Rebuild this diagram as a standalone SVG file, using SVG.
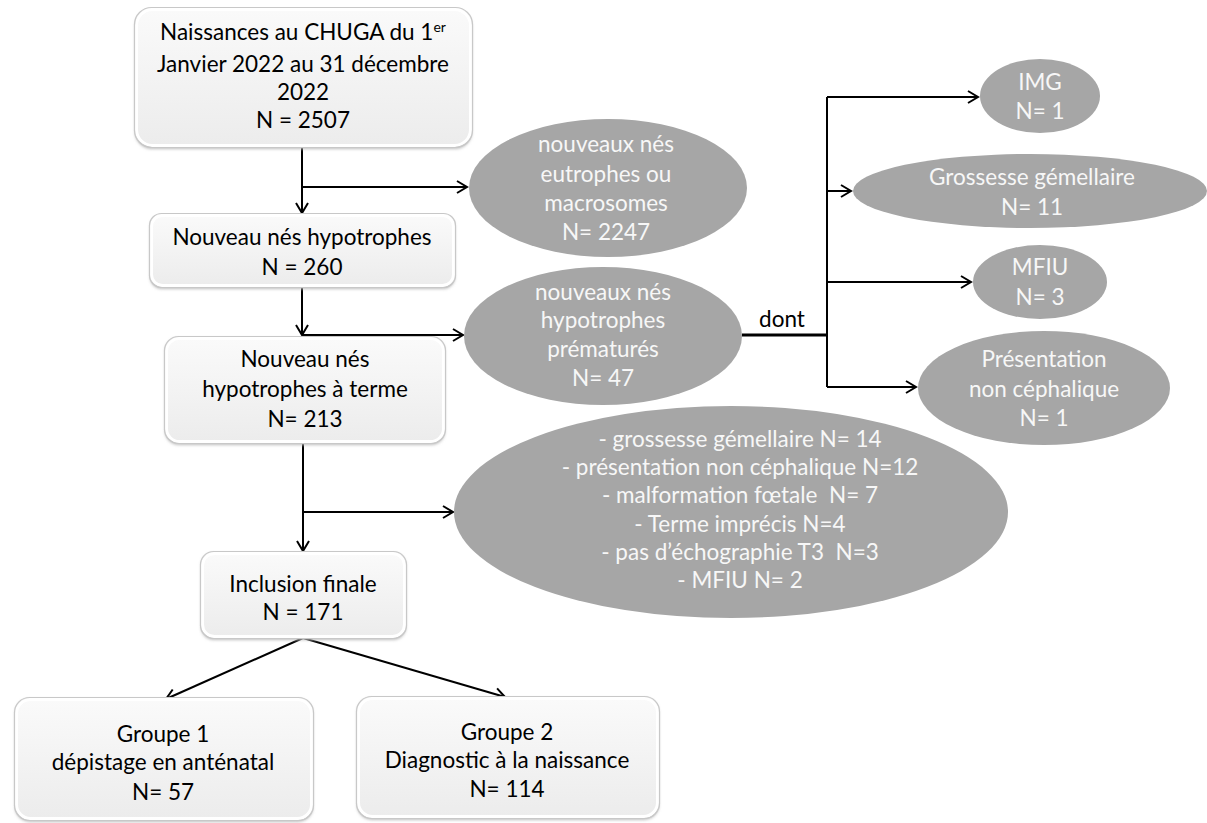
<svg xmlns="http://www.w3.org/2000/svg" width="1207" height="823" viewBox="0 0 1207 823">
<defs>
<linearGradient id="boxfill" x1="0" y1="0" x2="0" y2="1">
<stop offset="0" stop-color="#fafafa"/>
<stop offset="1" stop-color="#ececec"/>
</linearGradient>
<filter id="sh" x="-10%" y="-10%" width="120%" height="130%">
<feGaussianBlur stdDeviation="1.5"/>
</filter>
<marker id="arr" markerUnits="userSpaceOnUse" markerWidth="16" markerHeight="16" viewBox="-12 -8 16 16" refX="0" refY="0" orient="auto">
<path d="M-10,-6 L0,0 L-10,6" fill="none" stroke="#000" stroke-width="2"/>
</marker>
</defs>
<style>
.bx{fill:url(#boxfill);stroke:#ffffff;stroke-width:3}
.bo{fill:none;stroke:#c8c8c8;stroke-width:1.2}
.shd{fill:#bdbdbd;filter:url(#sh)}
.el{fill:#a6a6a6}
.t{font-family:Lato,"Liberation Sans",sans-serif;font-size:22.5px;fill:#000;text-anchor:middle}
.w{font-family:Lato,"Liberation Sans",sans-serif;font-size:22.5px;fill:#f7f7f7;text-anchor:middle}
.c{fill:none;stroke:#000;stroke-width:2}
</style>
<rect width="1207" height="823" fill="#fff"/>

<g id="connectors">
<path class="c" d="M302,147 V213" marker-end="url(#arr)"/>
<path class="c" d="M302,187 H467" marker-end="url(#arr)"/>
<path class="c" d="M302,287 V335" marker-end="url(#arr)"/>
<path class="c" d="M302,335 H463" marker-end="url(#arr)"/>
<path class="c" d="M303,443 V551" marker-end="url(#arr)"/>
<path class="c" d="M303,512 H453" marker-end="url(#arr)"/>
<path class="c" d="M303,638 L166,699" marker-end="url(#arr)"/>
<path class="c" d="M303,638 L505,697" marker-end="url(#arr)"/>
<path class="c" d="M742,335 H827" style="stroke-width:3"/>
<path class="c" d="M827,97 V387"/>
<path class="c" d="M827,97 H978" marker-end="url(#arr)"/>
<path class="c" d="M827,191 H851" marker-end="url(#arr)"/>
<path class="c" d="M827,282 H971" marker-end="url(#arr)"/>
<path class="c" d="M827,387 H916" marker-end="url(#arr)"/>
<text class="t" x="782" y="327">dont</text>
</g>

<g id="n1">
<rect class="shd" x="135" y="10" width="337" height="139" rx="17"/>
<rect class="bx" x="136.5" y="9.5" width="334" height="136" rx="16"/>
<rect class="bo" x="134.5" y="7.5" width="338" height="140" rx="17"/>
<text class="t" x="303" y="40">Naissances au CHUGA du 1<tspan font-size="14" dy="-8">er</tspan></text>
<text class="t" x="303" y="72">Janvier 2022 au 31 décembre</text>
<text class="t" x="303" y="100">2022</text>
<text class="t" x="303" y="128">N = 2507</text>
</g>

<g id="n2">
<rect class="shd" x="150" y="216" width="305" height="73" rx="12"/>
<rect class="bx" x="151.5" y="215.5" width="302" height="70" rx="11"/>
<rect class="bo" x="149.5" y="213.5" width="306" height="74" rx="12"/>
<text class="t" x="302" y="245">Nouveau nés hypotrophes</text>
<text class="t" x="302" y="275">N = 260</text>
</g>

<g id="n3">
<rect class="shd" x="165" y="338" width="280" height="107" rx="14"/>
<rect class="bx" x="166.5" y="338.5" width="277" height="103" rx="13"/>
<rect class="bo" x="164.5" y="336.5" width="281" height="107" rx="14"/>
<text class="t" x="305" y="367">Nouveau nés</text>
<text class="t" x="305" y="397">hypotrophes à terme</text>
<text class="t" x="305" y="427">N= 213</text>
</g>

<g id="n4">
<rect class="shd" x="201" y="553" width="205" height="87" rx="13"/>
<rect class="bx" x="202.5" y="553.5" width="202" height="83" rx="12"/>
<rect class="bo" x="200.5" y="551.5" width="206" height="87" rx="13"/>
<text class="t" x="303" y="592">Inclusion finale</text>
<text class="t" x="303" y="620">N = 171</text>
</g>

<g id="n5">
<rect class="shd" x="15" y="699" width="298" height="123" rx="15"/>
<rect class="bx" x="16.5" y="699.5" width="295" height="119" rx="14"/>
<rect class="bo" x="14.5" y="697.5" width="299" height="123" rx="15"/>
<text class="t" x="163" y="742">Groupe 1</text>
<text class="t" x="163" y="770">dépistage en anténatal</text>
<text class="t" x="163" y="800">N= 57</text>
</g>

<g id="n6">
<rect class="shd" x="357" y="698" width="302" height="122" rx="15"/>
<rect class="bx" x="358.5" y="698.5" width="299" height="118" rx="14"/>
<rect class="bo" x="356.5" y="696.5" width="303" height="122" rx="15"/>
<text class="t" x="507" y="740">Groupe 2</text>
<text class="t" x="507" y="768">Diagnostic à la naissance</text>
<text class="t" x="507" y="797">N= 114</text>
</g>

<g id="e1">
<ellipse class="el" cx="608" cy="188" rx="139" ry="69"/>
<text class="w" x="606" y="152">nouveaux nés</text>
<text class="w" x="606" y="182">eutrophes ou</text>
<text class="w" x="606" y="211">macrosomes</text>
<text class="w" x="606" y="240">N= 2247</text>
</g>

<g id="e2">
<ellipse class="el" cx="603" cy="336" rx="139" ry="69"/>
<text class="w" x="603" y="300">nouveaux nés</text>
<text class="w" x="603" y="328">hypotrophes</text>
<text class="w" x="603" y="357">prématurés</text>
<text class="w" x="603" y="386">N= 47</text>
</g>

<g id="e3">
<ellipse class="el" cx="1040" cy="96" rx="60" ry="37"/>
<text class="w" x="1040" y="90">IMG</text>
<text class="w" x="1040" y="119">N= 1</text>
</g>

<g id="e4">
<ellipse class="el" cx="1030" cy="191" rx="177" ry="37"/>
<text class="w" x="1032" y="185">Grossesse gémellaire</text>
<text class="w" x="1032" y="215">N= 11</text>
</g>

<g id="e5">
<ellipse class="el" cx="1040" cy="282" rx="67" ry="37"/>
<text class="w" x="1040" y="275">MFIU</text>
<text class="w" x="1040" y="305">N= 3</text>
</g>

<g id="e6">
<ellipse class="el" cx="1044" cy="388" rx="126" ry="57"/>
<text class="w" x="1044" y="367">Présentation</text>
<text class="w" x="1044" y="397">non céphalique</text>
<text class="w" x="1044" y="426">N= 1</text>
</g>

<g id="e7">
<ellipse class="el" cx="731" cy="512" rx="277" ry="106"/>
<text class="w" x="740" y="447">- grossesse gémellaire N= 14</text>
<text class="w" x="740" y="475">- présentation non céphalique N=12</text>
<text class="w" x="740" y="503">- malformation fœtale &#160;N= 7</text>
<text class="w" x="740" y="532">- Terme imprécis N=4</text>
<text class="w" x="740" y="560">- pas d’échographie T3 &#160;N=3</text>
<text class="w" x="740" y="588">- MFIU N= 2</text>
</g>
</svg>
